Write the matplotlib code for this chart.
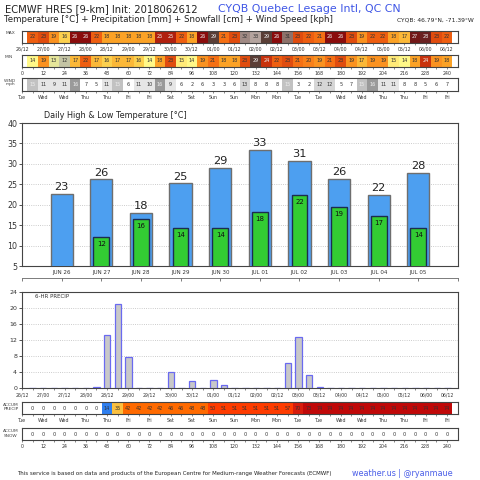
import matplotlib
matplotlib.use("Agg")
import matplotlib.pyplot as plt
import numpy as np
from matplotlib.colors import ListedColormap, BoundaryNorm, to_rgb

# ---------------- data ----------------
cell_hours = list(range(6, 241, 6))
label_hours = list(range(0, 241, 12))
time_labels = ["26/12", "27/00", "27/12", "28/00", "28/12", "29/00", "29/12", "30/00",
               "30/12", "01/00", "01/12", "02/00", "02/12", "03/00", "03/12", "04/00",
               "04/12", "05/00", "05/12", "06/00", "06/12"]
day_labels = ["Tue", "Wed", "Wed", "Thu", "Thu", "Fri", "Fri", "Sat", "Sat", "Sun", "Sun",
              "Mon", "Mon", "Tue", "Tue", "Wed", "Wed", "Thu", "Thu", "Fri", "Fri"]
hour_labels = ["0", "12", "24", "36", "48", "60", "72", "84", "96", "108", "120", "132",
               "144", "156", "168", "180", "192", "204", "216", "228", "240"]

max_6h = [22, 23, 19, 16, 26, 26, 22, 18, 18, 18, 18, 18, 25, 25, 22, 18, 26, 29, 21, 23,
          32, 33, 29, 26, 31, 23, 22, 21, 26, 26, 23, 19, 22, 22, 18, 17, 27, 28, 23, 22]
min_6h = [14, 19, 13, 12, 17, 22, 17, 16, 17, 17, 16, 14, 18, 23, 15, 14, 19, 21, 18, 18,
          23, 29, 24, 22, 23, 21, 20, 19, 21, 23, 19, 17, 19, 19, 15, 14, 18, 24, 19, 18]
wind_6h = [15, 11, 9, 11, 16, 7, 5, 11, 15, 6, 11, 10, 16, 9, 6, 2, 6, 3, 3, 6,
           13, 8, 8, 8, 15, 3, 2, 12, 12, 5, 7, 15, 16, 11, 11, 8, 8, 5, 6, 7]
precip_6h = [0, 0, 0, 0, 0, 0, 0.4, 13.2, 21.0, 7.7, 0, 0, 0, 4.1, 0, 1.7, 0, 2.0, 0.9, 0,
             0, 0, 0, 0, 6.4, 12.7, 3.3, 0.3, 0, 0, 0, 0, 0, 0, 0, 0, 0, 0.1, 0, 0]
accum_precip = [0, 0, 0, 0, 0, 0, 0, 14, 35, 42, 42, 42, 42, 46, 46, 48, 48, 50, 51, 51,
                51, 51, 51, 51, 57, 70, 73, 74, 74, 74, 74, 74, 74, 74, 74, 74, 74, 74, 74, 74]
accum_snow = [0] * 40

days = ["JUN 26", "JUN 27", "JUN 28", "JUN 29", "JUN 30",
        "JUL 01", "JUL 02", "JUL 03", "JUL 04", "JUL 05"]
highs = [22.7, 26.2, 18.0, 25.2, 29.1, 33.4, 30.8, 26.3, 22.4, 27.8]
lows = [np.nan, 12.0, 16.4, 14.4, 14.4, 18.2, 22.4, 19.4, 17.2, 14.4]

# ---------------- colour scales ----------------
temp_cols = ['#c4c4a4', '#e6e69a', '#fff888', '#ffea78', '#fcd04e', '#fbb838', '#fba226',
             '#fa9220', '#f8801a', '#f57014', '#ee5e10', '#e04c0e', '#c8320c', '#b0200e',
             '#8a0c0c', '#721818', '#6a2222', '#5a3e36', '#7a5a52', '#8e726a', '#a08a84',
             '#b4a49e']
temp_cmap = ListedColormap(temp_cols)
temp_norm = BoundaryNorm(np.arange(11.5, 34.5, 1), temp_cmap.N, clip=True)

wind_cmap = ListedColormap(['#ffffff', '#e6e6e6', '#d6d6d6', '#c2c2c2', '#9a9a9a'])
wind_norm = BoundaryNorm([0, 8.5, 11.5, 13.5, 15.5, 40], wind_cmap.N, clip=True)

acc_cmap = ListedColormap(['#ffffff', '#2f7fef', '#fbc040', '#ff6a00', '#ff3c00',
                           '#d81c0c', '#c00808'])
acc_norm = BoundaryNorm([-0.5, 0.5, 25, 40, 49.5, 65, 72, 200], acc_cmap.N, clip=True)

W = 480.0


def rect(x0, y0, x1, y1):
    return [x0 / W, 1 - y1 / W, (x1 - x0) / W, (y1 - y0) / W]


fig = plt.figure(figsize=(4.8, 4.8), dpi=100)
fig.patch.set_facecolor('white')
dark = '#333333'


def lum(c):
    r, g, b = to_rgb(c)
    return 0.299 * r + 0.587 * g + 0.114 * b


def strip(y0, y1, values, cmap, norm, labels, light_thresh=0.42):
    ax = fig.add_axes(rect(22, y0, 457.5, y1))
    cols = [cmap(norm(v)) for v in values]
    ax.bar(cell_hours, [1] * len(values), width=6, color=cols, linewidth=0, align='center')
    for h, v, c in zip(cell_hours, values, cols):
        tc = '#eeeeee' if lum(c) < light_thresh else dark
        ax.text(h, 0.5, f"{v:g}", ha='center', va='center', fontsize=3.5, color=tc)
    ax.set_xlim(0, 246)
    ax.set_ylim(0, 1)
    ax.set_yticks([])
    ax.set_xticks(label_hours)
    ax.set_xticklabels(labels, fontsize=3.4, color=dark)
    ax.set_xticks([h + 6 for h in label_hours[:-1]], minor=True)
    ax.tick_params(axis='x', which='both', length=1.5, width=0.5, pad=1.2, color='#555555')
    for s in ax.spines.values():
        s.set_linewidth(0.8)
        s.set_color('#444444')
    return ax


# header texts
fig.text(5 / W, 1 - 9 / W, "ECMWF HRES [9-km] Init: 2018062612", fontsize=7.2,
         color='#222222', va='center', ha='left')
fig.text(218 / W, 1 - 9 / W, "CYQB Quebec Lesage Intl, QC CN", fontsize=7.9,
         color='#3f56e6', va='center', ha='left')
fig.text(4 / W, 1 - 19.5 / W,
         "Temperature [°C] + Precipitation [mm] + Snowfall [cm] + Wind Speed [kph]",
         fontsize=6.2, color='#222222', va='center', ha='left')
fig.text(474 / W, 1 - 20 / W, "CYQB: 46.79°N, -71.39°W", fontsize=4.3,
         color='#222222', va='center', ha='right')

# top strips
strip(31, 43, max_6h, temp_cmap, temp_norm, time_labels)
strip(55, 67, min_6h, temp_cmap, temp_norm, hour_labels)
strip(78, 91, wind_6h, wind_cmap, wind_norm, day_labels, light_thresh=0.8)

lab_kw = dict(fontsize=3.2, color='#444444', ha='center', va='center')
fig.text(10 / W, 1 - 33.5 / W, "MAX", **lab_kw)
fig.text(9 / W, 1 - 57.5 / W, "MIN", **lab_kw)
fig.text(10 / W, 1 - 80.5 / W, "WIND", **lab_kw)
fig.text(10 / W, 1 - 84.5 / W, "mph", **lab_kw)

# ---------------- temperature chart ----------------
ax = fig.add_axes(rect(22, 123, 458, 266))
x = np.arange(len(days))
ax.bar(x, highs, width=0.56, color='#4d9ff0', edgecolor='#6e6e6e', linewidth=1.0, zorder=3)
low_x = [i for i in x if not np.isnan(lows[i])]
low_v = [lows[i] for i in low_x]
ax.bar(low_x, low_v, width=0.4, color='#33cc33', edgecolor='#1c2c50', linewidth=1.0, zorder=4)
for i, h in zip(x, highs):
    ax.annotate(f"{round(h)}", (i, h), xytext=(0, 1.2), textcoords='offset points',
                ha='center', va='bottom', fontsize=8.2, color='#222222', zorder=5)
for i, lo in zip(low_x, low_v):
    ax.annotate(f"{round(lo)}", (i, lo), xytext=(0, -5), textcoords='offset points',
                ha='center', va='center', fontsize=5, color='#111111', zorder=5)
ax.set_xlim(-1, 10)
ax.set_ylim(5, 40)
ax.set_yticks(range(5, 41, 5))
ax.tick_params(axis='y', labelsize=5.7, length=2, width=0.6, pad=1.5, colors='#333333')
ax.set_xticks(x)
ax.set_xticklabels(days, fontsize=4, color=dark)
ax.tick_params(axis='x', length=0, pad=3)
ax.grid(axis='y', linestyle=':', color='#bbbbbb', linewidth=0.6, zorder=0)
for s in ax.spines.values():
    s.set_linewidth(0.8)
    s.set_color('#444444')
fig.text(44 / W, 1 - 115.5 / W, "Daily High & Low Temperature [°C]", fontsize=5.9,
         color='#222222', va='center', ha='left')

# extra tick line below temperature chart
axl = fig.add_axes(rect(22, 270, 458, 277.5))
axl.set_xlim(-1, 10)
axl.set_facecolor('none')
for k in ['top', 'left', 'right']:
    axl.spines[k].set_visible(False)
axl.spines['bottom'].set_color('#666666')
axl.spines['bottom'].set_linewidth(0.6)
axl.set_yticks([])
axl.set_xticks(range(-1, 11))
axl.set_xticklabels([])
axl.tick_params(axis='x', length=2.5, width=0.6, color='#666666')

# ---------------- precip chart ----------------
axp = fig.add_axes(rect(22, 292, 458, 388.3))
axp.bar(cell_hours, precip_6h, width=3.6, color='#c8c8c8', edgecolor='#6a6af0',
        linewidth=0.9, zorder=3)
axp.set_xlim(0, 246)
axp.set_ylim(0, 24)
axp.set_yticks(range(0, 25, 4))
axp.tick_params(axis='y', labelsize=4.5, length=2, width=0.6, pad=1.5, colors='#333333')
axp.set_xticks(label_hours)
axp.set_xticklabels(time_labels, fontsize=3.3, color=dark)
axp.set_xticks([h + 6 for h in label_hours[:-1]], minor=True)
axp.tick_params(axis='x', which='both', length=1.5, width=0.5, pad=1.2, color='#555555')
axp.grid(axis='y', linestyle=':', color='#bbbbbb', linewidth=0.6, zorder=0)
for s in axp.spines.values():
    s.set_linewidth(0.8)
    s.set_color('#444444')
axp.text(0.03, 0.95, "6-HR PRECIP", transform=axp.transAxes, fontsize=4,
         color='#333333', va='center', ha='left')

# ---------------- accum strips ----------------
strip(402, 414, accum_precip, acc_cmap, acc_norm, day_labels, light_thresh=0.2)
strip(428, 440, accum_snow, acc_cmap, acc_norm, hour_labels, light_thresh=0.2)
fig.text(11 / W, 1 - 404.5 / W, "ACCUM", **lab_kw)
fig.text(11 / W, 1 - 409.5 / W, "PRECIP", **lab_kw)
fig.text(11 / W, 1 - 431 / W, "ACCUM", **lab_kw)
fig.text(11 / W, 1 - 436 / W, "SNOW", **lab_kw)

# footer
fig.text(17 / W, 1 - 473 / W,
         "This service is based on data and products of the European Centre for "
         "Medium-range Weather Forecasts (ECMWF)",
         fontsize=3.95, color='#222222', va='center', ha='left')
fig.text(453 / W, 1 - 473 / W, "weather.us | @ryanmaue", fontsize=5.8,
         color='#4a5ee8', va='center', ha='right')

fig.savefig("out.png", dpi=100, facecolor='white')
